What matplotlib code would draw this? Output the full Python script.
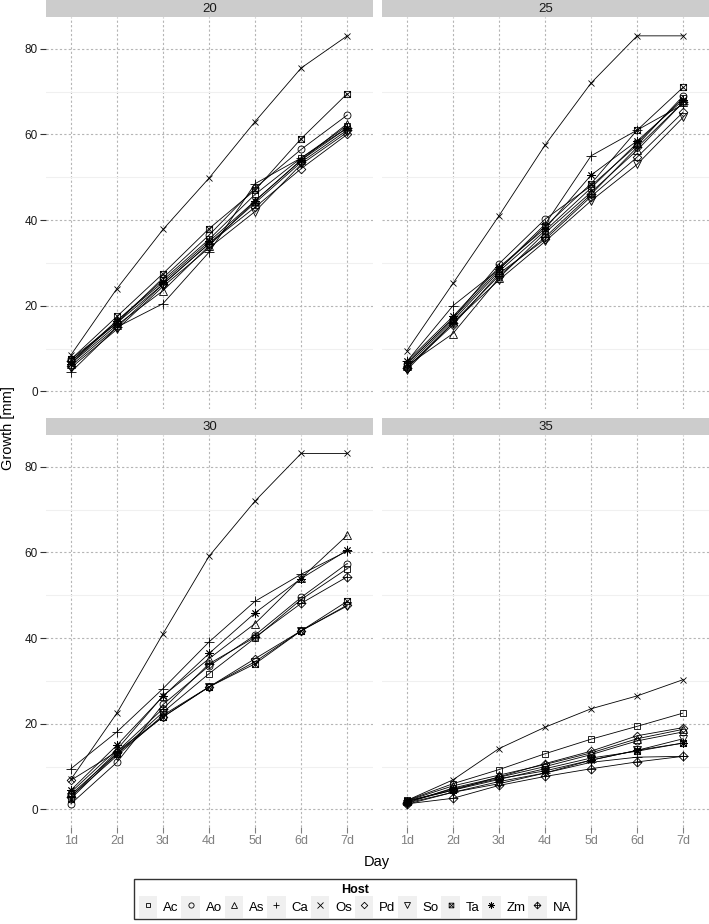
import matplotlib
matplotlib.use("Agg")
import matplotlib.pyplot as plt
from matplotlib.path import Path
from matplotlib.patches import Rectangle
from matplotlib.lines import Line2D
from matplotlib.legend_handler import HandlerLine2D

plt.rcParams['font.family'] = ['Liberation Sans', 'DejaVu Sans']

days = ["1d", "2d", "3d", "4d", "5d", "6d", "7d"]
hosts = ["Ac", "Ao", "As", "Ca", "Os", "Pd", "So", "Ta", "Zm", "NA"]
temps = ["20", "25", "30", "35"]

# growth [mm] per host, one dict per temperature panel
growth_20 = {
    "Ac": [7.0, 16.5, 26.0, 35.5, 46.0, 54.5, 62.0],
    "Ao": [7.5, 16.0, 26.5, 36.5, 47.5, 56.5, 64.5],
    "As": [6.5, 15.5, 23.5, 34.0, 44.5, 54.0, 62.5],
    "Ca": [4.5, 15.0, 20.5, 32.5, 48.5, 54.5, 61.5],
    "Os": [8.5, 24.0, 37.8, 49.8, 63.0, 75.5, 83.0],
    "Pd": [6.0, 15.0, 25.0, 34.5, 43.0, 52.0, 60.0],
    "So": [5.5, 14.5, 24.5, 33.5, 42.0, 53.0, 60.5],
    "Ta": [7.5, 17.5, 27.5, 38.0, 47.0, 59.0, 69.5],
    "Zm": [6.5, 16.5, 25.5, 35.0, 44.5, 54.0, 61.5],
    "NA": [7.0, 16.0, 25.0, 34.5, 44.0, 53.5, 61.0],
}
growth_25 = {
    "Ac": [6.0, 16.5, 28.0, 37.5, 47.5, 58.0, 68.5],
    "Ao": [6.5, 17.0, 29.8, 40.2, 48.0, 57.5, 69.0],
    "As": [6.0, 13.5, 26.5, 37.0, 46.5, 56.3, 67.5],
    "Ca": [7.0, 20.0, 28.5, 39.0, 55.0, 61.0, 67.0],
    "Os": [9.5, 25.2, 41.0, 57.5, 72.0, 83.0, 83.0],
    "Pd": [5.5, 15.5, 27.5, 35.5, 45.5, 54.7, 65.2],
    "So": [5.0, 16.0, 26.0, 35.0, 44.5, 53.0, 64.0],
    "Ta": [6.5, 17.0, 28.5, 38.5, 48.5, 61.0, 71.0],
    "Zm": [7.0, 17.5, 29.0, 38.0, 50.5, 58.5, 68.0],
    "NA": [5.5, 16.0, 27.0, 36.0, 46.0, 57.0, 67.5],
}
growth_30 = {
    "Ac": [3.5, 13.0, 22.7, 31.7, 40.0, 49.0, 56.2],
    "Ao": [1.3, 11.0, 24.5, 33.5, 40.7, 49.5, 57.4],
    "As": [4.0, 14.0, 26.5, 35.2, 43.4, 54.0, 64.0],
    "Ca": [9.5, 18.1, 28.2, 39.1, 48.6, 54.9, 60.3],
    "Os": [7.0, 22.5, 41.0, 59.1, 72.0, 83.1, 83.1],
    "Pd": [6.8, 13.5, 21.6, 28.6, 35.2, 41.7, 47.7],
    "So": [3.0, 12.5, 22.0, 28.6, 34.5, 41.7, 47.5],
    "Ta": [2.5, 13.0, 21.6, 28.6, 34.0, 41.7, 48.6],
    "Zm": [4.5, 15.0, 26.4, 36.4, 45.9, 53.9, 60.5],
    "NA": [3.0, 13.5, 23.5, 34.0, 40.2, 48.1, 54.3],
}
growth_35 = {
    "Ac": [2.1, 6.0, 9.3, 13.0, 16.4, 19.4, 22.5],
    "Ao": [1.5, 5.0, 7.5, 10.0, 12.8, 16.0, 18.1],
    "As": [2.0, 5.5, 8.0, 10.5, 13.2, 16.5, 18.7],
    "Ca": [1.5, 4.0, 6.5, 8.5, 11.0, 12.2, 12.4],
    "Os": [2.1, 6.9, 14.2, 19.2, 23.5, 26.5, 30.3],
    "Pd": [1.8, 4.5, 7.6, 10.7, 13.6, 17.2, 19.1],
    "So": [1.2, 4.0, 6.0, 8.5, 11.5, 13.8, 16.5],
    "Ta": [2.0, 4.5, 7.0, 9.5, 12.0, 13.6, 15.5],
    "Zm": [1.8, 4.8, 7.2, 9.0, 11.5, 13.8, 15.5],
    "NA": [1.3, 2.6, 5.6, 7.7, 9.5, 11.1, 12.4],
}
panels = [growth_20, growth_25, growth_30, growth_35]

# R-like point shapes 0..9
M, L, C = Path.MOVETO, Path.LINETO, Path.CLOSEPOLY
box_x = Path([(-1, -1), (1, -1), (1, 1), (-1, 1), (-1, -1), (-1, -1), (1, 1), (-1, 1), (1, -1)],
             [M, L, L, L, C, M, L, M, L])
diamond = Path([(0, -1), (1, 0), (0, 1), (-1, 0), (0, -1)], [M, L, L, L, C])
diamond_plus = Path([(0, -1), (1, 0), (0, 1), (-1, 0), (0, -1), (0, -1), (0, 1), (-1, 0), (1, 0)],
                    [M, L, L, L, C, M, L, M, L])
shapes = {"Ac": ("s", 4.3), "Ao": ("o", 5), "As": ("^", 5.5), "Ca": ("+", 6.5), "Os": ("x", 5),
          "Pd": (diamond, 6.2), "So": ("v", 5.5), "Ta": (box_x, 4.5), "Zm": ((8, 2, 0), 6),
          "NA": (diamond_plus, 6.5)}

W, H = 709, 924
fig = plt.figure(figsize=(W / 100, H / 100), dpi=100)

lefts = [46, 382]
plot_w = 327
tops = [17, 435]
plot_h = 392
strip_h = 17

for i, data in enumerate(panels):
    r, c = divmod(i, 2)
    x0 = lefts[c]
    y0 = tops[r]
    ax = fig.add_axes([x0 / W, 1 - (y0 + plot_h) / H, plot_w / W, plot_h / H])
    st = fig.add_axes([x0 / W, 1 - y0 / H, plot_w / W, strip_h / H])
    st.set_facecolor("#cccccc")
    st.set_xticks([])
    st.set_yticks([])
    for s in st.spines.values():
        s.set_visible(False)
    st.text(0.5, 0.45, temps[i], ha="center", va="center", fontsize=9.5, color="#1a1a1a",
            transform=st.transAxes)

    for h in hosts:
        mk, ms = shapes[h]
        ax.plot(range(1, 8), data[h], color="black", lw=0.6, marker=mk, ms=ms,
                mfc="none", mec="black", mew=0.6, zorder=3)

    ax.set_xlim(0.46, 7.56)
    ax.set_ylim(-4.1, 87.4)
    ax.set_xticks(range(1, 8))
    ax.set_xticklabels(days)
    ax.set_yticks([0, 20, 40, 60, 80])
    ax.set_yticks([10, 30, 50, 70], minor=True)
    ax.grid(which="major", color="#b5b5b5", lw=0.8, ls=(0, (2, 2)))
    ax.grid(which="minor", axis="y", color="#f0f0f0", lw=0.8, ls="-")
    ax.set_axisbelow(True)
    for s in ax.spines.values():
        s.set_visible(False)
    ax.tick_params(which="minor", length=0)
    ax.tick_params(axis="y", length=4, width=0.8, color="#333333", labelsize=8.5,
                   labelcolor="#1a1a1a", pad=2)
    ax.tick_params(axis="x", length=4, width=0.8, color="#808080", labelsize=9,
                   labelcolor="#808080", pad=2)
    if r == 0:
        ax.tick_params(axis="x", length=0, labelbottom=False)
    if c == 1:
        ax.tick_params(axis="y", length=0, labelleft=False)

fig.text(8 / W, 1 - 428 / H, "Growth [mm]", rotation=90, ha="center", va="center", fontsize=10.5)
fig.text(377 / W, 1 - 862 / H, "Day", ha="center", va="center", fontsize=10.5)


class KeyHandler(HandlerLine2D):
    def create_artists(self, legend, orig_handle, xdescent, ydescent, width, height, fontsize, trans):
        arts = super().create_artists(legend, orig_handle, xdescent, ydescent, width, height,
                                      fontsize, trans)
        bg = Rectangle((-xdescent, -ydescent - 3), width, height + 6, facecolor="#f0f0f0",
                       edgecolor="none", transform=trans)
        return [bg] + list(arts)


handles = []
for h in hosts:
    mk, ms = shapes[h]
    handles.append(Line2D([], [], ls="none", marker=mk, ms=ms * 0.75, mfc="none", mec="black",
                          mew=0.6))

leg = fig.legend(handles, hosts, loc="center", bbox_to_anchor=(355 / W, 1 - 899 / H), ncol=10,
                 title="Host", fancybox=False, frameon=True, fontsize=9.5,
                 title_fontproperties={"weight": "bold", "size": 9},
                 handler_map={Line2D: KeyHandler()}, handlelength=1.4, handleheight=1.2,
                 handletextpad=0.45, columnspacing=0.2, borderpad=0.35, labelspacing=0.3)
leg.get_frame().set_edgecolor("black")
leg.get_frame().set_linewidth(1.0)

fig.savefig("out.png", dpi=100)
